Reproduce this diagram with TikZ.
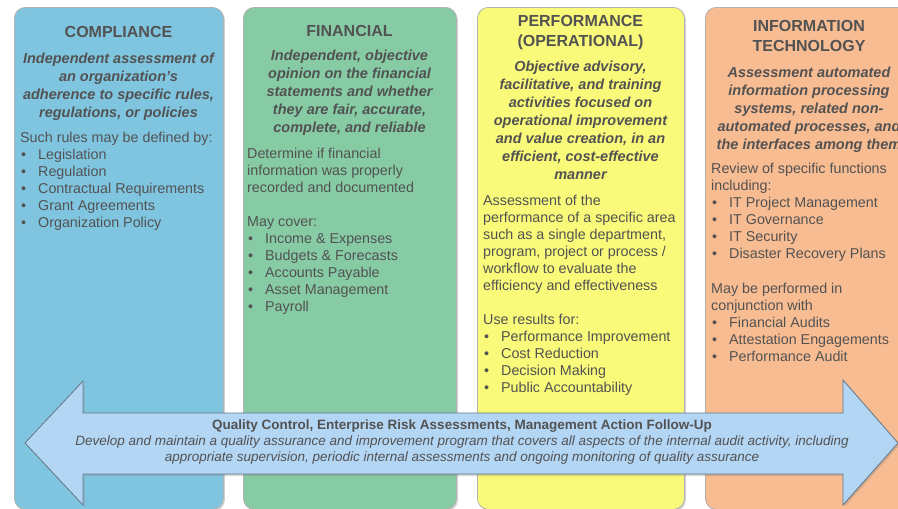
\documentclass[tikz,border=0pt]{standalone}
\usepackage{fontspec}
\setmainfont{Liberation Sans}
\usepackage{tikz}
\usetikzlibrary{shadows}
\definecolor{txt}{RGB}{82,82,82}
\definecolor{cblue}{RGB}{128,197,224}
\definecolor{cgreen}{RGB}{134,203,164}
\definecolor{cyellow}{RGB}{250,250,122}
\definecolor{corange}{RGB}{248,188,146}
\definecolor{carrow}{RGB}{180,214,245}
\tikzstyle{col} = [rectangle, rounded corners=11pt, anchor=north west, draw=black!30, line width=0.8pt, drop shadow={shadow xshift=1.5pt, shadow yshift=-1.5pt, opacity=0.35}]
\tikzstyle{hd} = [anchor=north, align=center, inner sep=0pt, text=txt, font=\fontsize{16}{20}\selectfont\bfseries]
\tikzstyle{ds} = [anchor=north, align=center, inner sep=0pt, text=txt, font=\fontsize{14.5}{18}\selectfont\bfseries\itshape]
\tikzstyle{bd} = [anchor=north west, align=left, inner sep=0pt, text=txt, font=\fontsize{14.3}{17}\selectfont]
\newcommand{\bl}{\makebox[18pt][l]{\hspace{1pt}\textbullet}}

\begin{document}
\begin{tikzpicture}
		[
			x=1pt, y=-1pt,
			band/.style={fill=carrow, draw=carrow!55!black, line width=0.8pt,
					drop shadow={shadow xshift=1.5pt, shadow yshift=-2pt, opacity=0.3}},
			bandtext/.style={align=center, inner sep=0pt, text=txt, font=\fontsize{13.5}{16}\selectfont}
		]
		\clip (0,0) rectangle (898,509);
		\fill[white] (0,0) rectangle (898,509);

		\node[col, fill=cblue,   minimum width=209pt, minimum height=502pt] (comp) at (14,7) {};
		\node[col, fill=cgreen,  minimum width=213pt, minimum height=502pt] (fin)  at (243,7) {};
		\node[col, fill=cyellow, minimum width=207pt, minimum height=502pt] (perf) at (477,7) {};
		\node[col, fill=corange, minimum width=208pt, minimum height=502pt] (it)   at (705,7) {};

		% compliance
		\node[hd] (compT) at (118.5,26) {COMPLIANCE};
		\node[ds] (compD) at (118.5,53) {Independent assessment of\\an organization’s\\adherence to specific rules,\\regulations, or policies};
		\node[bd] (compB) at (20,132) {Such rules may be defined by:\\ \bl Legislation\\ \bl Regulation\\ \bl Contractual Requirements\\ \bl Grant Agreements\\ \bl Organization Policy};

		% financial
		\node[hd] (finT) at (349.5,25) {FINANCIAL};
		\node[ds] (finD) at (349.5,50) {Independent, objective\\opinion on the financial\\statements and whether\\they are fair, accurate,\\complete, and reliable};
		\node[bd] (finB) at (247,148) {Determine if financial\\information was properly\\recorded and documented\\[17pt]May cover:\\ \bl Income \& Expenses\\ \bl Budgets \& Forecasts\\ \bl Accounts Payable\\ \bl Asset Management\\ \bl Payroll};

		% performance
		\node[hd] (perfT) at (580.5,15) {PERFORMANCE\\(OPERATIONAL)};
		\node[ds] (perfD) at (580.5,61) {Objective advisory,\\facilitative, and training\\activities focused on\\operational improvement\\and value creation, in an\\efficient, cost-effective\\manner};
		\node[bd] (perfB) at (483,195) {Assessment of the\\performance of a specific area\\such as a single department,\\program, project or process /\\workflow to evaluate the\\efficiency and effectiveness\\[17pt]Use results for:\\ \bl Performance Improvement\\ \bl Cost Reduction\\ \bl Decision Making\\ \bl Public Accountability};

		% information technology
		\node[hd] (itT) at (809,20) {INFORMATION\\TECHNOLOGY};
		\node[ds] (itD) at (809,67) {Assessment automated\\information processing\\systems, related non-\\automated processes, and\\the interfaces among them};
		\node[bd] (itB) at (711,163) {Review of specific functions\\including:\\ \bl IT Project Management\\ \bl IT Governance\\ \bl IT Security\\ \bl Disaster Recovery Plans\\[18pt]May be performed in\\conjunction with\\ \bl Financial Audits\\ \bl Attestation Engagements\\ \bl Performance Audit};

		% quality band
		\coordinate (lt) at (25,443);
		\coordinate (rt) at (898,443);
		\draw[band] (lt) -- (83,381) -- (83,413) -- (843,413) -- (843,380) -- (rt)
			-- (843,505) -- (843,474) -- (83,474) -- (83,505) -- cycle;
		\node[bandtext] (qa) at (462,442) {\textbf{Quality Control, Enterprise Risk Assessments, Management Action Follow-Up}\\
			\textit{Develop and maintain a quality assurance and improvement program that covers all aspects of the internal audit activity, including}\\
			\textit{appropriate supervision, periodic internal assessments and ongoing monitoring of quality assurance}};
	\end{tikzpicture}
\end{document}
